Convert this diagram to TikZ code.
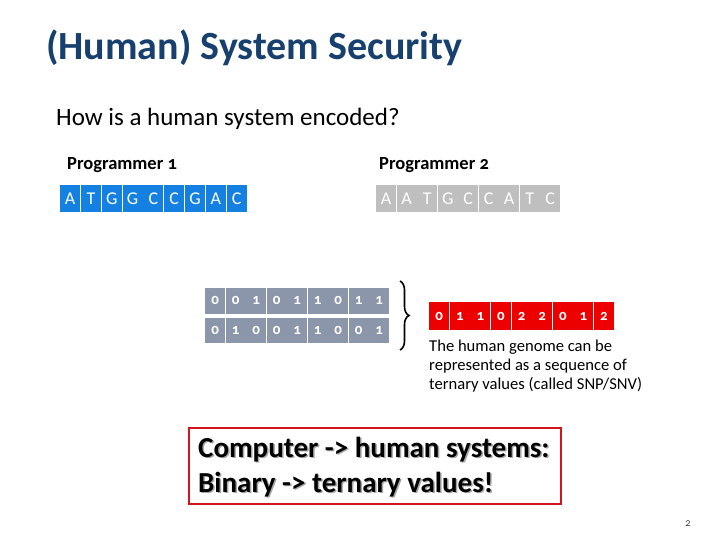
\documentclass[tikz,border=0pt]{standalone}
\usepackage{fontspec}
\setmainfont{Carlito}[Numbers=OldStyle]
\usetikzlibrary{decorations.pathreplacing}
\definecolor{titleblue}{RGB}{23,64,110}
\definecolor{dnablue}{RGB}{20,128,226}
\definecolor{dnagray}{RGB}{191,191,191}
\definecolor{bitgray}{RGB}{140,150,170}
\definecolor{trired}{RGB}{236,0,0}
\definecolor{boxred}{RGB}{210,20,30}
\tikzset{
  cell/.style={minimum width=20pt,minimum height=#1,inner sep=0pt,text=white,font=\fontsize{18}{18}\selectfont,anchor=west},
  dnacell/.style={cell=27pt,fill=dnablue},
  graycell/.style={cell=27pt,fill=dnagray},
  bitcell/.style={cell=26pt,fill=bitgray,font=\fontsize{15}{15}\selectfont\bfseries},
  tricell/.style={cell=28pt,fill=trired,font=\fontsize{15}{15}\selectfont\bfseries},
  label/.style={inner sep=0pt,font=\fontsize{18.5}{18.5}\selectfont\bfseries},
  desctext/.style={anchor=base west,inner sep=0pt,font=\fontsize{16.6}{19}\selectfont},
  bigmsg/.style={anchor=base west,inner sep=0pt,font=\fontsize{29}{29}\selectfont\bfseries},
}
\begin{document}
\begin{tikzpicture}[x=1pt,y=-1pt]
\useasboundingbox (0,0) rectangle (720,540);
\node[anchor=base west,inner sep=0pt,text=titleblue,font=\fontsize{40}{40}\selectfont\bfseries] (title) at (46,60) {(Human) System Security};
\node[anchor=base west,inner sep=0pt,font=\fontsize{25}{25}\selectfont] (q) at (56,126) {How is a human system encoded?};
\node[label,anchor=base west] (p1) at (67,170) {Programmer 1};
\node[label,anchor=base west] (p2) at (379,170) {Programmer 2};
\foreach \c [count=\i] in {A,T,G,G,C,C,G,A,C}
  \node[dnacell] (a\i) at ({60+(\i-1)*20.8},198.5) {\c};
\foreach \c [count=\i] in {A,A,T,G,C,C,A,T,C}
  \node[graycell] (b\i) at ({376+(\i-1)*20.5},198.5) {\c};
\foreach \c [count=\i] in {0,0,1,0,1,1,0,1,1}
  \node[bitcell] (r\i) at ({205+(\i-1)*20.5},300.5) {\c};
\foreach \c [count=\i] in {0,1,0,0,1,1,0,0,1}
  \node[bitcell,minimum height=25pt] (s\i) at ({205+(\i-1)*20.5},330.5) {\c};
\coordinate (bt) at (400,281);
\coordinate (bb) at (400,350);
\draw[line width=1.6pt,decorate,decoration={brace,amplitude=9pt}] (bt) -- (bb);
\foreach \c [count=\i] in {0,1,1,0,2,2,0,1,2}
  \node[tricell] (t\i) at ({429+(\i-1)*20.6},316) {\c};
\node[desctext] (d1) at (429,351) {The human genome can be};
\node[desctext] (d2) at (429,370) {represented as a sequence of};
\node[desctext] (d3) at (429,389) {ternary values (called SNP/SNV)};
\node[draw=boxred,line width=2pt,minimum width=372pt,minimum height=76pt,anchor=north west,inner sep=0pt] (box) at (188,427) {};
\node[bigmsg,text=black!35] (sh1) at (199.5,458.5) {Computer -> human systems:};
\node[bigmsg,text=black!35] (sh2) at (199.5,493.5) {Binary -> ternary values!};
\node[bigmsg] (m1) at (198,457) {Computer -> human systems:};
\node[bigmsg] (m2) at (198,492) {Binary -> ternary values!};
\node[anchor=base,inner sep=0pt,text=black!70,font=\fontsize{11}{11}\selectfont] (pg) at (688,526) {2};
\end{tikzpicture}
\end{document}
